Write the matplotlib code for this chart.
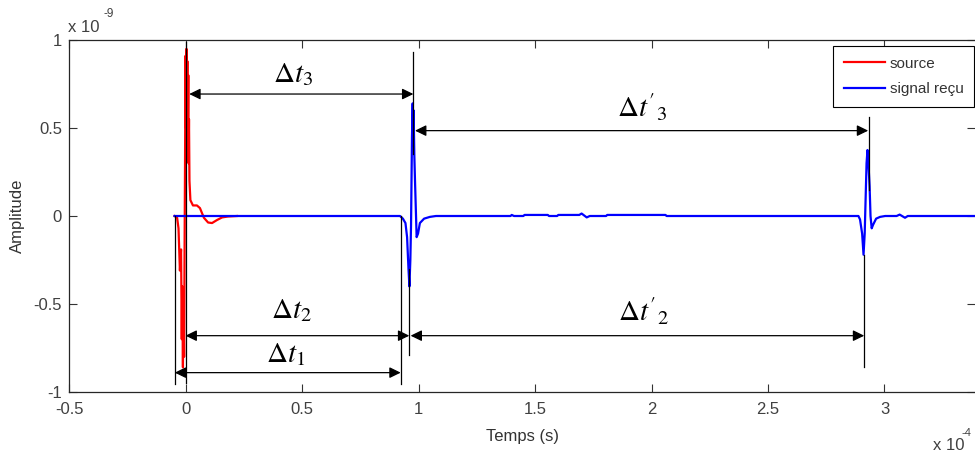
import matplotlib
matplotlib.use("Agg")
import matplotlib.pyplot as plt

plt.rcParams['font.family'] = ['Liberation Sans', 'DejaVu Sans']
plt.rcParams['mathtext.fontset'] = 'stix'

# ---- data (x in units of 1e-4, y in units of 1e-9) ----
src_t = [-0.047, -0.036, -0.030, -0.024, -0.019, -0.016, -0.014, -0.011, -0.009, -0.006,
         -0.004, -0.002, 0.0, 0.002, 0.004, 0.006, 0.008, 0.010, 0.012, 0.013,
         0.015, 0.017, 0.021, 0.032, 0.049, 0.062, 0.079,
         0.097, 0.114, 0.135, 0.157, 0.182, 0.221]
src_a = [0.0, -0.01, -0.07, -0.31, -0.19, -0.70, -0.40, -0.86, -0.48, -0.80,
         -0.20, 0.30, 0.91, 0.50, 0.95, 0.60, 0.88, 0.40, 0.80, 0.30,
         0.55, 0.20, 0.09, 0.06, 0.06, 0.045, -0.01,
         -0.037, -0.04, -0.023, -0.008, -0.003, 0.0]

rec_t = [-0.047, 0.9206, 0.933, 0.944, 0.951, 0.957, 0.961, 0.965, 0.968, 0.972,
         0.975, 0.977, 0.979, 0.982, 0.985, 0.992, 0.998, 1.006, 1.024, 1.049, 1.075,
         1.395, 1.40, 1.41, 1.45, 1.455, 1.555, 1.56, 1.595, 1.60, 1.69, 1.70,
         1.722, 1.735, 1.805, 1.81, 2.06, 2.065,
         2.888, 2.895, 2.904, 2.910, 2.915, 2.919, 2.923, 2.927, 2.931, 2.936,
         2.940, 2.945, 2.951, 2.964, 2.981, 3.003, 3.052, 3.065, 3.088, 3.10,
         3.5]
rec_a = [0.0, 0.0, -0.015, -0.04, -0.12, -0.30, -0.40, -0.25, -0.05, 0.45,
         0.64, 0.40, 0.60, 0.35, 0.20, -0.12, -0.10, -0.04, -0.015, -0.005, 0.0,
         0.0, 0.006, 0.0, 0.0, 0.006, 0.006, 0.0, 0.0, 0.006, 0.006, 0.014,
         -0.008, 0.0, 0.0, 0.006, 0.006, 0.0,
         0.0, -0.02, -0.10, -0.22, -0.10, 0.10, 0.30, 0.375, 0.30, 0.17,
         0.0, -0.07, -0.05, -0.015, -0.005, 0.0, 0.0, 0.008, -0.01, 0.0,
         0.0]

# annotation markers: vertical reference lines (x, y_start, y_end)
vline_x = [-0.046, 0.0, 0.978, 0.9605, 0.9236, 2.9335, 2.913]
vline_y0 = [0.0, 0.99, 0.93, -0.30, 0.0, 0.56, -0.22]
vline_y1 = [-0.955, -0.95, 0.35, -0.79, -0.955, 0.15, -0.86]

# double arrows (x_start, x_end, y) and labels (x, y)
arr_labels = [r'$\Delta t_3$', r"$\Delta t^{\prime}{}_{3}$", r'$\Delta t_2$',
              r"$\Delta t^{\prime}{}_{2}$", r'$\Delta t_1$']
arr_x0 = [0.016, 0.985, 0.0, 0.966, -0.046]
arr_x1 = [0.978, 2.930, 0.9605, 2.913, 0.9236]
arr_y = [0.693, 0.485, -0.68, -0.68, -0.89]
lab_x = [0.461, 1.958, 0.456, 1.964, 0.431]
lab_y = [0.763, 0.564, -0.581, -0.60, -0.828]

xticks = [-0.5, 0, 0.5, 1, 1.5, 2, 2.5, 3]
xticklabels = ['-0.5', '0', '0.5', '1', '1.5', '2', '2.5', '3']
yticks = [-1, -0.5, 0, 0.5, 1]
yticklabels = ['-1', '-0.5', '0', '0.5', '1']

W, H = 975, 455
fig = plt.figure(figsize=(W / 100, H / 100), dpi=100)
ax = fig.add_axes([69 / W, 63 / H, 906 / W, 352 / H])

ax.plot(src_t, src_a, color='#ff0000', lw=1.6, label='source', zorder=3)
ax.plot(rec_t, rec_a, color='#0000ff', lw=1.6, label='signal reçu', zorder=4)

for x, y0, y1 in zip(vline_x, vline_y0, vline_y1):
    ax.plot([x, x], [y0, y1], color='black', lw=0.9, zorder=5)

for x0, x1, y in zip(arr_x0, arr_x1, arr_y):
    ax.annotate('', xy=(x1, y), xytext=(x0, y),
                arrowprops=dict(arrowstyle='<|-|>,head_length=0.45,head_width=0.22',
                                color='black', lw=0.9, shrinkA=0, shrinkB=0,
                                mutation_scale=15), zorder=6)

for s, x, y in zip(arr_labels, lab_x, lab_y):
    ax.text(x, y, s, ha='center', va='baseline', fontsize=21, color='black', zorder=7)

ax.set_xlim(-0.5, -0.5 + 906 / 233)
ax.set_ylim(-1, 1)
ax.set_xticks(xticks)
ax.set_xticklabels(xticklabels)
ax.set_yticks(yticks)
ax.set_yticklabels(yticklabels)
ax.tick_params(direction='in', length=6, width=0.8, top=True, right=True,
               labelsize=12, labelcolor='0.25', color='0.2')
ax.tick_params(axis='x', pad=7)
ax.tick_params(axis='y', pad=5)
for side in ['left', 'bottom', 'top']:
    ax.spines[side].set_color('0.15')
    ax.spines[side].set_linewidth(0.9)
ax.spines['right'].set_visible(False)

ax.set_xlabel('Temps (s)', fontsize=12, color='0.2', labelpad=9)
ax.set_ylabel('Amplitude', fontsize=12, color='0.2', labelpad=6)

leg = ax.legend(loc='upper right', bbox_to_anchor=(0.999, 0.983), fontsize=11,
                frameon=True, fancybox=False, edgecolor='black', framealpha=1,
                handlelength=2.7, handletextpad=0.3, labelspacing=0.75,
                borderpad=0.7, borderaxespad=0.0)
leg.get_frame().set_linewidth(0.8)
for t in leg.get_texts():
    t.set_color('0.2')

# exponent annotations
fig.text(68 / W, 1 - 28 / H, 'x 10', fontsize=12, color='0.25', ha='left', va='center')
fig.text(103 / W, 1 - 14 / H, '-9', fontsize=8.5, color='0.25', ha='left', va='center')
fig.text(933 / W, 1 - 445 / H, 'x 10', fontsize=12, color='0.25', ha='left', va='center')
fig.text(962 / W, 1 - 433 / H, '-4', fontsize=8, color='0.25', ha='left', va='center')

fig.savefig('out.png', dpi=100)
